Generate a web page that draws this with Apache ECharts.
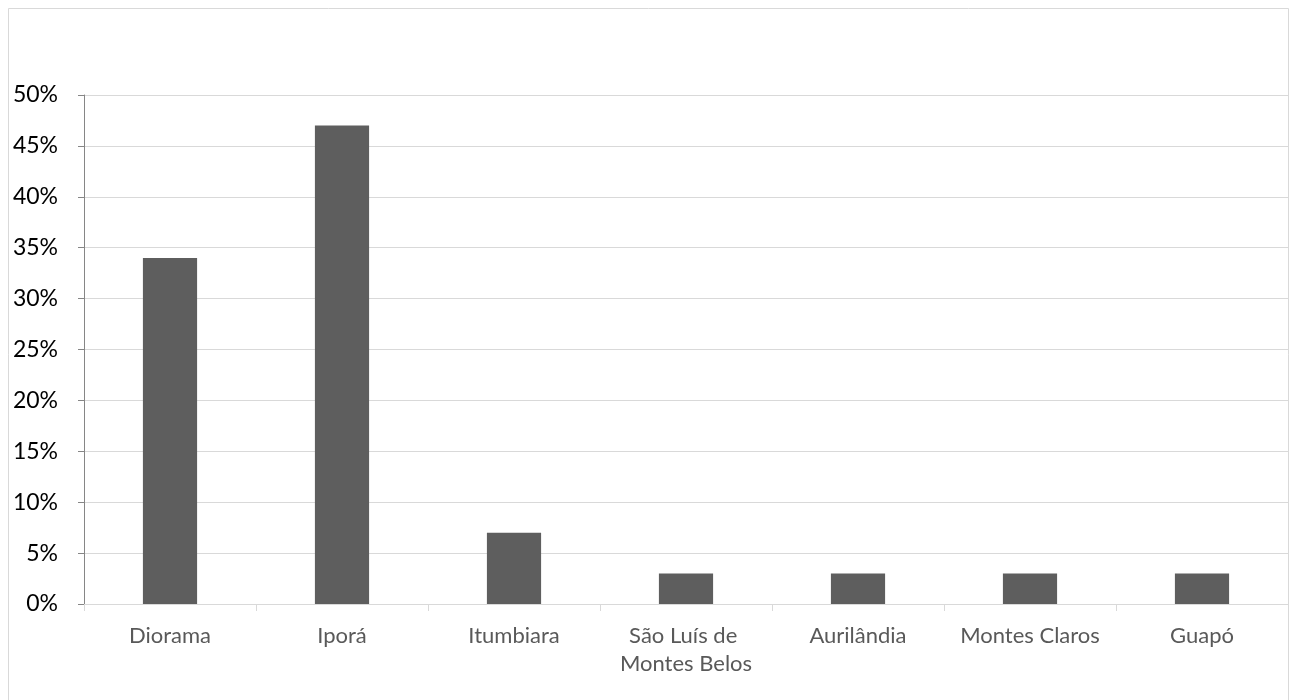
<!DOCTYPE html>
<html>
<head>
<meta charset="utf-8">
<script src="https://cdn.jsdelivr.net/npm/echarts@6/dist/echarts.min.js"></script>
<style>
  html, body { margin: 0; padding: 0; background: #fff; }
  #chart { width: 1296px; height: 700px; }
</style>
</head>
<body>
<div id="chart"></div>
<script>
// Share of responses by municipality
const categories = ['Diorama', 'Iporá', 'Itumbiara', 'São Luís de Montes Belos', 'Aurilândia', 'Montes Claros', 'Guapó'];
const shares = [34, 47, 7, 3, 3, 3, 3];
const yTicks = [0, 5, 10, 15, 20, 25, 30, 35, 40, 45, 50];

const chart = echarts.init(document.getElementById('chart'));
const FONT = 'Lato, "Noto Sans", sans-serif';

chart.setOption({
  animation: false,
  backgroundColor: '#ffffff',
  graphic: [{
    type: 'rect',
    shape: { x: 8.5, y: 8.5, width: 1280, height: 720 },
    style: { fill: 'none', stroke: '#d9d9d9', lineWidth: 1 },
    silent: true
  }],
  grid: { left: 84, right: 8, top: 95, bottom: 96, containLabel: false },
  xAxis: {
    type: 'category',
    data: categories,
    axisLine: { show: true, lineStyle: { color: '#d9d9d9', width: 1 } },
    axisTick: { show: true, alignWithLabel: false, length: 7, lineStyle: { color: '#d9d9d9' } },
    axisLabel: {
      color: '#595959',
      fontFamily: FONT,
      fontSize: 22,
      lineHeight: 28,
      margin: 18,
      interval: 0,
      width: 150,
      overflow: 'break'
    }
  },
  yAxis: {
    type: 'value',
    min: yTicks[0],
    max: yTicks[yTicks.length - 1],
    interval: 5,
    axisLine: { show: true, lineStyle: { color: '#868686', width: 1 } },
    axisTick: { show: true, length: 6, lineStyle: { color: '#868686' } },
    splitLine: { show: true, lineStyle: { color: '#d9d9d9', width: 1 } },
    axisLabel: {
      color: '#000000',
      fontFamily: FONT,
      fontSize: 23,
      margin: 26,
      formatter: v => v + '%'
    }
  },
  series: [{
    type: 'bar',
    data: shares,
    barWidth: '31.5%',
    itemStyle: { color: '#5e5e5e' },
    silent: true
  }]
});
</script>
</body>
</html>
